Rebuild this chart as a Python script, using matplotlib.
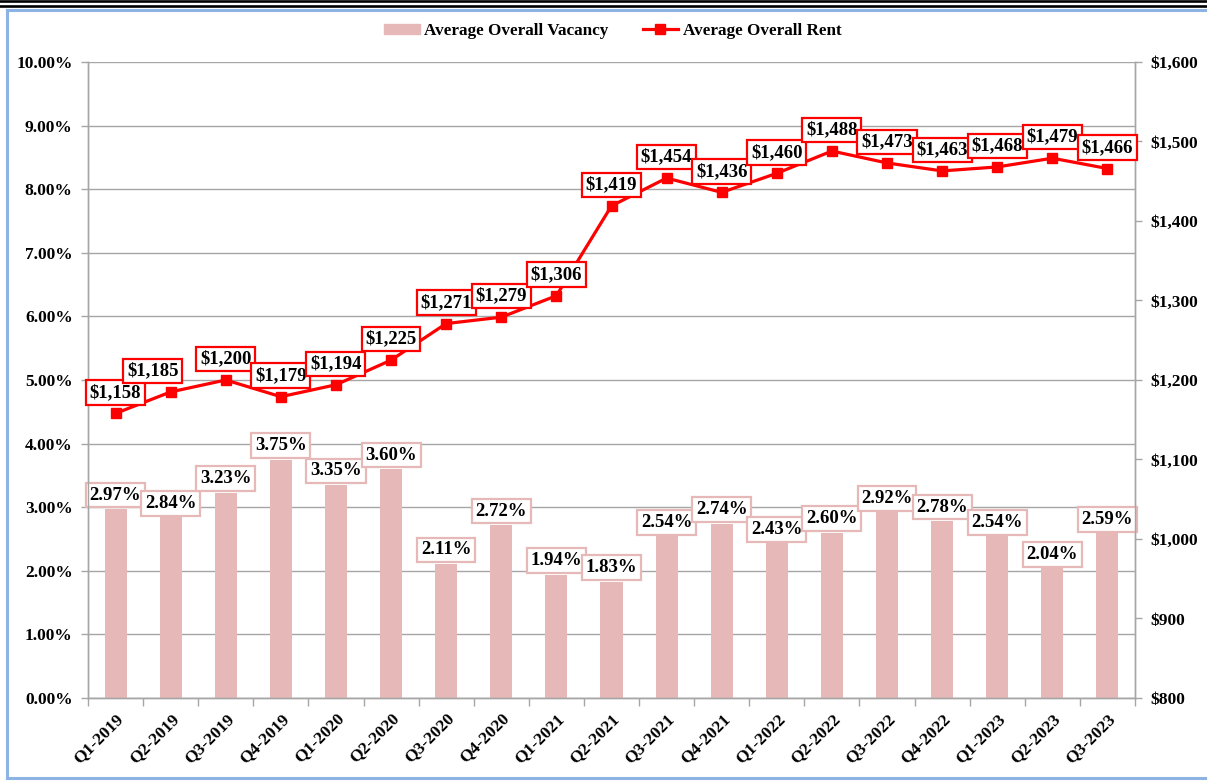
import matplotlib
matplotlib.use("Agg")
import matplotlib.pyplot as plt
from matplotlib.patches import Patch
from matplotlib.lines import Line2D
from matplotlib.ticker import FuncFormatter, FixedLocator

quarters = ["Q1-2019", "Q2-2019", "Q3-2019", "Q4-2019", "Q1-2020", "Q2-2020",
            "Q3-2020", "Q4-2020", "Q1-2021", "Q2-2021", "Q3-2021", "Q4-2021",
            "Q1-2022", "Q2-2022", "Q3-2022", "Q4-2022", "Q1-2023", "Q2-2023",
            "Q3-2023"]
vacancy = [2.97, 2.84, 3.23, 3.75, 3.35, 3.60, 2.11, 2.72, 1.94, 1.83, 2.54,
           2.74, 2.43, 2.60, 2.92, 2.78, 2.54, 2.04, 2.59]
rent = [1158, 1185, 1200, 1179, 1194, 1225, 1271, 1279, 1306, 1419, 1454,
        1436, 1460, 1488, 1473, 1463, 1468, 1479, 1466]

plt.rcParams['font.family'] = ['Liberation Serif', 'DejaVu Serif']
plt.rcParams['font.weight'] = 'bold'

BAR = '#e6b8b7'
RED = '#ff0000'
GRID = '#a6a6a6'
TICK_FS = 12.5
LABEL_FS = 13.5

fig = plt.figure(figsize=(12.07, 7.82), dpi=100)
ax = fig.add_axes([88/1207, 1-698/782, (1135-88)/1207, (698-62)/782])
ax2 = ax.twinx()

x = list(range(len(quarters)))
ax.bar(x, vacancy, width=0.4, color=BAR, zorder=2)
ax.set_ylim(0, 10)
ax.set_xlim(-0.5, len(quarters)-0.5)
ax.yaxis.set_major_locator(FixedLocator([i for i in range(11)]))
ax.yaxis.set_major_formatter(FuncFormatter(lambda v, p: f"{v:.2f}%"))
ax.grid(axis='y', color=GRID, lw=1, zorder=0)
ax.set_axisbelow(True)

ax.set_xticks(x)
ax.set_xticklabels(quarters, rotation=45, ha='right', rotation_mode='anchor',
                   fontsize=TICK_FS, fontweight='bold')
ax.tick_params(axis='x', which='major', length=0, pad=9)
ax.set_xticks([i - 0.5 for i in range(len(quarters) + 1)], minor=True)
ax.tick_params(axis='x', which='minor', length=6, color=GRID, width=1)
ax.tick_params(axis='y', length=5, color=GRID, width=1, labelsize=TICK_FS, pad=6)

for i, v in enumerate(vacancy):
    ax.annotate(f"{v:.2f}%", (i, v), xytext=(0, 14), textcoords='offset pixels',
                ha='center', va='center', fontsize=LABEL_FS, fontweight='bold',
                zorder=5,
                bbox=dict(boxstyle='square,pad=0.2', fc='white', ec=BAR, lw=1.6))

ax2.plot(x, rent, color=RED, lw=2.3, marker='s', markersize=6.5, zorder=3)
ax2.set_ylim(800, 1600)
ax2.yaxis.set_major_locator(FixedLocator(list(range(800, 1601, 100))))
ax2.yaxis.set_major_formatter(FuncFormatter(lambda v, p: f"${int(v):,}"))
ax2.tick_params(axis='y', length=5, color=GRID, width=1, labelsize=TICK_FS, pad=6)

xoffs = [0] * len(rent)
xoffs[1] = -18
for i, r in enumerate(rent):
    ax2.annotate(f"${r:,}", (i, r), xytext=(xoffs[i], 21), textcoords='offset pixels',
                 ha='center', va='center', fontsize=LABEL_FS, fontweight='bold',
                 zorder=6,
                 bbox=dict(boxstyle='square,pad=0.2', fc='white', ec=RED, lw=1.6))

for a in (ax, ax2):
    a.spines['top'].set_visible(False)
    for s in ('left', 'right', 'bottom'):
        a.spines[s].set_color(GRID)
        a.spines[s].set_linewidth(1)

# Legend
handles = [Patch(color=BAR, label='Average Overall Vacancy'),
           Line2D([0], [0], color=RED, lw=2.3, marker='s', markersize=6.5,
                  label='Average Overall Rent')]
fig.legend(handles=handles, loc='center', bbox_to_anchor=(0.5075, 1-31/782),
           ncol=2, frameon=False, handlelength=2.1, handleheight=0.55,
           handletextpad=0.25, columnspacing=2.0,
           prop=dict(family='Liberation Serif', weight='bold', size=12.3))

# Frame decorations
W, H = 1207, 782
def fx(px):
    return px / W
def fy(py):
    return 1 - py / H
BLUE = '#8db3e2'
fig.add_artist(Line2D([0, 1], [fy(1.3), fy(1.3)], color='black', lw=1.9, transform=fig.transFigure))
fig.add_artist(Line2D([0, 1], [fy(5.5), fy(5.5)], color='black', lw=1.9, transform=fig.transFigure))
fig.add_artist(Line2D([fx(6.5), 1], [fy(9.5), fy(9.5)], color=BLUE, lw=2.2, transform=fig.transFigure))
fig.add_artist(Line2D([fx(6.5), fx(6.5)], [fy(9.5), fy(777.5)], color=BLUE, lw=2.2, transform=fig.transFigure))
fig.add_artist(Line2D([fx(6.5), 1], [fy(777.5), fy(777.5)], color=BLUE, lw=2.2, transform=fig.transFigure))

fig.savefig("out.png", dpi=100)
